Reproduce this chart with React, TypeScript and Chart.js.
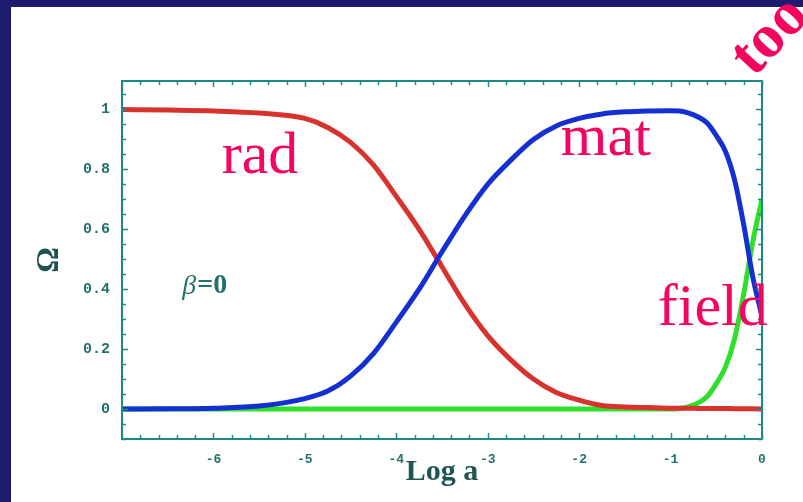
import { useEffect, useRef } from "react";
import { Chart, registerables } from "chart.js";

Chart.register(...registerables);

// log10 of the scale factor
const logA = [
  -7, -6.5, -6, -5.5, -5, -4.75, -4.5, -4.25, -4, -3.75, -3.5, -3.25, -3, -2.75, -2.5, -2.25, -2,
  -1.75, -1.5, -1.25, -1, -0.9, -0.8, -0.7, -0.6, -0.5, -0.4, -0.3, -0.2, -0.1, 0,
];

// density parameters of each component
const omegaRad = [
  1.0, 0.998, 0.995, 0.988, 0.97, 0.94, 0.89, 0.815, 0.71, 0.6, 0.475, 0.35, 0.245, 0.165, 0.1,
  0.055, 0.03, 0.012, 0.007, 0.005, 0.003, 0.003, 0.003, 0.002, 0.002, 0.002, 0.002, 0.001, 0.001,
  0.001, 0.0,
];
const omegaMat = [
  0.0, 0.001, 0.003, 0.01, 0.035, 0.06, 0.11, 0.185, 0.29, 0.4, 0.525, 0.645, 0.75, 0.83, 0.9,
  0.945, 0.97, 0.985, 0.992, 0.995, 0.996, 0.995, 0.988, 0.975, 0.955, 0.913, 0.86, 0.765, 0.615,
  0.44, 0.31,
];
const omegaField = [
  0, 0, 0, 0, 0, 0, 0, 0, 0, 0, 0, 0, 0, 0, 0, 0, 0, 0, 0, 0, 0, 0.002, 0.008, 0.02, 0.042, 0.085,
  0.14, 0.235, 0.385, 0.56, 0.7,
];

const xTickValues = [-6, -5, -4, -3, -2, -1, 0];
const yTickValues = [0, 0.2, 0.4, 0.6, 0.8, 1];

const NAVY = "#1e1b6e";
const FRAME = "#1c8a88";
const TICK_TEXT = "#23706c";
const TITLE_TEXT = "#1d5553";
const PINK = "#f5055f";

const toPoints = (ys: number[]) => logA.map((x, i) => ({ x, y: ys[i] }));

const decorPlugin = {
  id: "decor",
  beforeDraw(chart: any) {
    const { ctx, width, height } = chart;
    ctx.save();
    ctx.fillStyle = NAVY;
    ctx.fillRect(0, 0, width, height);
    ctx.fillStyle = "#ffffff";
    ctx.fillRect(11, 7, width - 11, height - 7);
    ctx.restore();
  },
  afterDatasetsDraw(chart: any) {
    const { ctx, chartArea: a, scales } = chart;
    const xs = scales.x;
    const ys = scales.y;
    ctx.save();
    ctx.strokeStyle = FRAME;
    ctx.lineWidth = 2;
    ctx.strokeRect(a.left, a.top, a.right - a.left, a.bottom - a.top);
    ctx.lineWidth = 1.5;
    ctx.beginPath();
    // inward ticks on bottom and top edges, every 0.2 in log a
    for (let i = 0; i <= 35; i++) {
      const v = -7 + i * 0.2;
      const px = Math.round(xs.getPixelForValue(v)) + 0.5;
      const len = i % 5 === 0 ? 6 : 4;
      ctx.moveTo(px, a.bottom);
      ctx.lineTo(px, a.bottom - len);
      ctx.moveTo(px, a.top);
      ctx.lineTo(px, a.top + len);
    }
    // inward ticks on left and right edges, every 0.05 in Omega
    for (let j = -2; j <= 22; j++) {
      const v = j * 0.05;
      if (v < ys.min || v > ys.max) continue;
      const py = Math.round(ys.getPixelForValue(v)) + 0.5;
      const len = j % 4 === 0 ? 6 : 4;
      ctx.moveTo(a.left, py);
      ctx.lineTo(a.left + len, py);
      ctx.moveTo(a.right, py);
      ctx.lineTo(a.right - len, py);
    }
    ctx.stroke();
    ctx.restore();
  },
  afterDraw(chart: any) {
    const { ctx, scales } = chart;
    const xs = scales.x;
    const ys = scales.y;
    ctx.save();
    ctx.fillStyle = PINK;
    ctx.textBaseline = "alphabetic";
    ctx.textAlign = "left";
    ctx.font = '60px "Liberation Serif"';
    ctx.fillText("rad", xs.getPixelForValue(-5.91), ys.getPixelForValue(0.788));
    ctx.fillText("mat", xs.getPixelForValue(-2.2), ys.getPixelForValue(0.848));
    ctx.fillText("field", xs.getPixelForValue(-1.14), ys.getPixelForValue(0.281));

    // beta = 0 note
    ctx.fillStyle = TICK_TEXT;
    ctx.textBaseline = "middle";
    const bx = xs.getPixelForValue(-6.34);
    const by = ys.getPixelForValue(0.41);
    ctx.font = 'italic 28px "Liberation Serif"';
    ctx.fillText("β", bx, by);
    const bw = ctx.measureText("β").width;
    ctx.font = 'bold 28px "Liberation Serif"';
    ctx.fillText("=0", bx + bw + 1, by);

    // corner caption running off the canvas
    ctx.fillStyle = PINK;
    ctx.textBaseline = "alphabetic";
    ctx.font = 'bold 62px "Liberation Serif"';
    ctx.translate(754, 78);
    ctx.rotate(-0.82);
    ctx.fillText("too", 0, 0);
    ctx.restore();
  },
};

export default function App() {
  const canvasRef = useRef<HTMLCanvasElement | null>(null);

  useEffect(() => {
    const canvas = canvasRef.current;
    if (!canvas) return;
    const chart = new Chart(canvas, {
      type: "line",
      data: {
        datasets: [
          {
            label: "mat",
            data: toPoints(omegaMat),
            borderColor: "#1430d2",
            borderWidth: 5,
            pointRadius: 0,
            cubicInterpolationMode: "monotone",
            fill: false,
          },
          {
            label: "rad",
            data: toPoints(omegaRad),
            borderColor: "#d8322e",
            borderWidth: 5,
            pointRadius: 0,
            cubicInterpolationMode: "monotone",
            fill: false,
          },
          {
            label: "field",
            data: toPoints(omegaField),
            borderColor: "#2fe02a",
            borderWidth: 5,
            pointRadius: 0,
            cubicInterpolationMode: "monotone",
            fill: false,
          },
        ],
      },
      options: {
        animation: false,
        responsive: false,
        devicePixelRatio: 1,
        layout: { padding: { left: 0, right: 41, top: 81, bottom: 0 } },
        plugins: { legend: { display: false }, tooltip: { enabled: false } },
        scales: {
          x: {
            type: "linear",
            min: -7,
            max: 0,
            grid: { display: false },
            border: { display: false },
            afterBuildTicks: (s: any) => {
              s.ticks = xTickValues.map((value) => ({ value }));
            },
            afterFit: (s: any) => {
              s.height = 63;
            },
            ticks: {
              autoSkip: false,
              maxRotation: 0,
              padding: 5,
              color: TICK_TEXT,
              font: { family: "Liberation Mono", size: 13, weight: "bold" },
              callback: (v: any) => String(v),
            },
            title: {
              display: true,
              text: "Log a",
              color: TITLE_TEXT,
              font: { family: "Liberation Serif", size: 30, weight: "bold" },
              padding: { top: 0, bottom: 12 },
            },
          },
          y: {
            type: "linear",
            min: -0.1,
            max: 1.095,
            grid: { display: false },
            border: { display: false },
            afterBuildTicks: (s: any) => {
              s.ticks = yTickValues.map((value) => ({ value }));
            },
            afterFit: (s: any) => {
              s.width = 122;
            },
            ticks: {
              autoSkip: false,
              padding: 4,
              color: TICK_TEXT,
              font: { family: "Liberation Mono", size: 15, weight: "bold" },
              callback: (v: any) => (v === 0 || v === 1 ? String(v) : Number(v).toFixed(1)),
            },
            title: {
              display: true,
              text: "Ω",
              color: TITLE_TEXT,
              font: { family: "Liberation Serif", size: 32, weight: "bold" },
              padding: { top: 31, bottom: 0 },
            },
          },
        },
      },
      plugins: [decorPlugin],
    });
    return () => chart.destroy();
  }, []);

  return (
    <div style={{ position: "fixed", left: 0, top: 0, width: 803, height: 502 }}>
      <canvas ref={canvasRef} width={803} height={502} />
    </div>
  );
}
